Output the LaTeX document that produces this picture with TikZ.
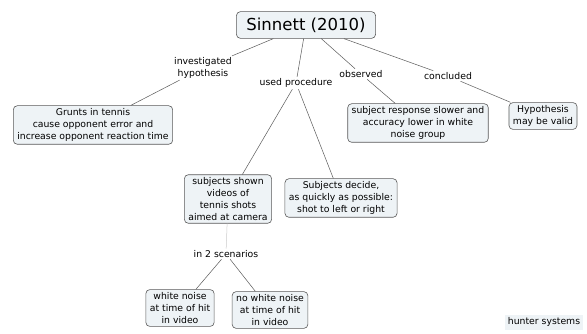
\documentclass[tikz,border=0pt]{standalone}
\usepackage{fontspec}
\setmainfont{DejaVu Sans}
\usepackage{tikz}
\definecolor{boxfill}{HTML}{EEF3F6}
\definecolor{boxline}{HTML}{5A5A5A}

\begin{document}
\begin{tikzpicture}[x=1pt,y=-1pt,
    concept/.style={draw=boxline,fill=boxfill,rounded corners=4pt,align=center,
        font=\fontsize{9.3}{11.8}\selectfont,inner xsep=4pt,inner ysep=3pt,line width=0.6pt},
    link/.style={align=center,font=\fontsize{9.3}{11.8}\selectfont,inner sep=1.5pt},
    wire/.style={draw=boxline,line width=0.5pt}]
        \useasboundingbox[fill=white] (0,0) rectangle (587,334);
        \node[concept,font=\fontsize{16.5}{18}\selectfont,inner xsep=10pt,inner ysep=6pt] (title) at (306,25) {Sinnett (2010)};
        \node[link] (hyp) at (203,68) {investigated\\hypothesis};
        \node[link] (proc) at (296,83) {used procedure};
        \node[link] (obs) at (361,74) {observed};
        \node[link] (conc) at (448,76) {concluded};
        \node[concept] (grunts) at (93,125) {Grunts in tennis\\cause opponent error and\\increase opponent reaction time};
        \node[concept] (resp) at (418,123) {subject response slower and\\accuracy lower in white\\noise group};
        \node[concept] (valid) at (543,116) {Hypothesis\\may be valid};
        \node[concept] (shown) at (228,199) {subjects shown\\videos of\\tennis shots\\aimed at camera};
        \node[concept] (decide) at (341,198) {Subjects decide,\\as quickly as possible:\\shot to left or right};
        \node[link] (scen) at (226,254) {in 2 scenarios};
        \node[concept] (noise) at (180,308) {white noise\\at time of hit\\in video};
        \node[concept] (nonoise) at (270,310) {no white noise\\at time of hit\\in video};
        \node[link,fill=boxfill,inner sep=3pt] (brand) at (544,322) {hunter systems};
        % links from the title
        \draw[wire] (title) -- (hyp);
        \draw[wire] (title) -- (proc);
        \draw[wire] (title) -- (obs);
        \draw[wire] (title) -- (conc);
        \draw[wire] (hyp) -- (grunts);
        \draw[wire] (proc) -- (shown);
        \draw[wire] (proc) -- (decide);
        \draw[wire] (obs) -- (resp);
        \draw[wire] (conc) -- (valid);
        % scenarios
        \draw[draw=gray!40,line width=0.5pt] (shown) -- (scen);
        \draw[wire] (scen) -- (noise);
        \draw[wire] (scen) -- (nonoise);
    \end{tikzpicture}
\end{document}
